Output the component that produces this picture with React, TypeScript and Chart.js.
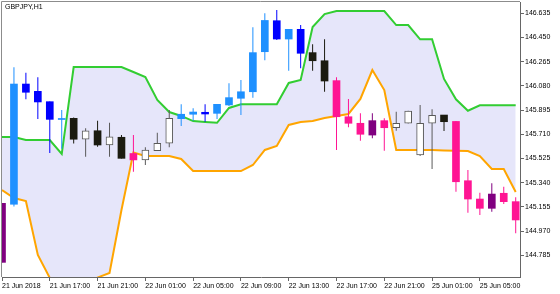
import React, { useEffect, useRef } from "react";
import { Chart, registerables } from "chart.js";

Chart.register(...registerables);

const X_LABELS = [
  "21 Jun 2018", "21 Jun 17:00", "21 Jun 21:00", "22 Jun 01:00", "22 Jun 05:00", "22 Jun 09:00",
  "22 Jun 13:00", "22 Jun 17:00", "22 Jun 21:00", "25 Jun 01:00", "25 Jun 05:00",
];
const X_TICK_INDEX = [0, 4, 8, 12, 16, 20, 24, 28, 32, 36, 40];
const Y_TICKS = [144.785, 144.970, 145.155, 145.340, 145.525, 145.710, 145.895, 146.080, 146.265, 146.450, 146.635];

const OPEN = [
  144.731, 145.175, 146.094, 146.038, 145.959, 145.823, 145.832, 145.672, 145.737, 145.628,
  145.687, 145.563, 145.514, 145.584, 145.641, 145.829, 145.863, 145.878, 145.870, 145.934,
  145.985, 146.035, 146.341, 146.578, 146.438, 146.512, 146.334, 146.272, 146.120, 145.844,
  145.794, 145.704, 145.814, 145.760, 145.794, 145.552, 145.794, 145.857, 145.808, 145.355,
  145.215, 145.144, 145.259, 145.195,
];
const HIGH = [
  145.185, 146.222, 146.181, 146.145, 145.960, 145.896, 145.838, 145.756, 145.814, 145.798,
  145.704, 145.704, 145.611, 145.722, 145.896, 145.939, 145.909, 145.939, 145.941, 146.100,
  146.125, 146.528, 146.635, 146.660, 146.514, 146.545, 146.398, 146.436, 146.145, 145.980,
  145.870, 145.870, 145.832, 145.882, 145.889, 145.934, 145.901, 145.858, 145.811, 145.437,
  145.263, 145.335, 145.309, 145.228,
];
const LOW = [
  144.730, 145.157, 145.977, 145.827, 145.567, 145.600, 145.639, 145.539, 145.615, 145.539,
  145.525, 145.424, 145.475, 145.582, 145.611, 145.773, 145.814, 145.806, 145.827, 145.926,
  145.857, 145.990, 146.275, 146.431, 146.196, 146.214, 146.196, 146.035, 145.590, 145.763,
  145.661, 145.679, 145.584, 145.737, 145.793, 145.544, 145.445, 145.735, 145.271, 145.110,
  145.093, 145.118, 145.177, 144.953,
];
const CLOSE = [
  145.182, 146.094, 146.031, 145.957, 145.824, 145.827, 145.672, 145.737, 145.628, 145.691,
  145.526, 145.514, 145.590, 145.641, 145.832, 145.863, 145.880, 145.865, 145.939, 145.990,
  146.035, 146.334, 146.580, 146.438, 146.512, 146.329, 146.272, 146.117, 145.844, 145.794,
  145.710, 145.814, 145.760, 145.794, 145.888, 145.794, 145.855, 145.806, 145.347, 145.215,
  145.144, 145.253, 145.195, 145.055,
];
// trend state of each bar: above channel ("up"), inside ("in"), below ("dn")
const TREND = [
  "dn", "up", "up", "up", "up", "up", "in", "in", "in", "in",
  "in", "dn", "in", "in", "in", "up", "up", "up", "up", "up",
  "up", "up", "up", "up", "up", "up", "in", "in", "dn", "dn",
  "dn", "dn", "dn", "in", "in", "in", "in", "in", "dn", "dn",
  "dn", "dn", "dn", "dn",
];
const UPPER = [
  145.689, 145.689, 145.666, 145.666, 145.666, 145.559, 146.224, 146.224, 146.224, 146.224,
  146.224, 146.186, 146.148, 145.972, 145.880, 145.850, 145.811, 145.804, 145.798, 145.911,
  145.939, 145.939, 145.939, 145.939, 146.102, 146.125, 146.530, 146.629, 146.652, 146.652,
  146.652, 146.652, 146.652, 146.545, 146.545, 146.436, 146.436, 146.133, 145.977, 145.890,
  145.931, 145.931, 145.931, 145.931,
];
const LOWER = [
  145.284, 145.223, 145.200, 144.787, 144.612, 144.540, 144.500, 144.520, 144.615, 144.650,
  145.131, 145.571, 145.544, 145.544, 145.544, 145.521, 145.429, 145.429, 145.429, 145.429,
  145.429, 145.475, 145.590, 145.620, 145.781, 145.804, 145.811, 145.834, 145.850, 145.865,
  145.980, 146.201, 146.048, 145.590, 145.590, 145.590, 145.590, 145.586, 145.584, 145.582,
  145.544, 145.445, 145.445, 145.269,
];

const FONT = { family: "'Liberation Sans', Arial, sans-serif", size: 7 };

export default function App() {
  const ref = useRef<HTMLCanvasElement>(null);

  useEffect(() => {
    if (!ref.current) return;
    const idx = OPEN.map((_, i) => i);
    const isBull = (i: number) => CLOSE[i] >= OPEN[i];
    const hollow = (i: number) => TREND[i] === "in" && isBull(i);
    const fillOf = (i: number) => {
      const b = isBull(i);
      if (TREND[i] === "up") return b ? "#1E90FF" : "#0000FF";
      if (TREND[i] === "dn") return b ? "#800080" : "#FF1493";
      return b ? "#FFFFFF" : "#1B1B10";
    };
    const edgeOf = (i: number) => (hollow(i) ? "#5A5A5A" : fillOf(i));

    const framePlugin = {
      id: "frame",
      afterDraw(chart: any) {
        const { ctx, chartArea } = chart;
        ctx.save();
        ctx.strokeStyle = "#8C8C8C";
        ctx.lineWidth = 1;
        ctx.beginPath();
        ctx.moveTo(chartArea.left - 0.5, chartArea.bottom);
        ctx.lineTo(chartArea.left - 0.5, chartArea.top - 0.5);
        ctx.lineTo(chartArea.right, chartArea.top - 0.5);
        ctx.stroke();
        ctx.restore();
      },
    };

    const chart = new Chart(ref.current, {
      type: "bar",
      data: {
        datasets: [
          {
            type: "bar",
            label: "body",
            data: idx.map((i) => ({ x: i, y: [OPEN[i], CLOSE[i]] })) as any,
            backgroundColor: idx.map(fillOf),
            borderColor: idx.map(edgeOf),
            borderWidth: idx.map((i) => (hollow(i) ? 1 : 0)),
            borderSkipped: false,
            barThickness: 7,
            minBarLength: 1,
            grouped: false,
            clip: 0,
            order: 1,
          } as any,
          {
            type: "bar",
            label: "wick",
            data: idx.map((i) => ({ x: i, y: [LOW[i], HIGH[i]] })) as any,
            backgroundColor: idx.map(edgeOf),
            borderWidth: 0,
            barThickness: 1,
            inflateAmount: 0,
            grouped: false,
            clip: 0,
            order: 2,
          } as any,
          {
            type: "line",
            label: "upper",
            data: idx.map((i) => ({ x: i, y: UPPER[i] })),
            borderColor: "#32CD32",
            borderWidth: 2,
            pointRadius: 0,
            tension: 0,
            fill: "+1",
            backgroundColor: "#E6E6FA",
            clip: 0,
            order: 3,
          } as any,
          {
            type: "line",
            label: "lower",
            data: idx.map((i) => ({ x: i, y: LOWER[i] })),
            borderColor: "#FFA500",
            borderWidth: 2,
            pointRadius: 0,
            tension: 0,
            fill: false,
            clip: 0,
            order: 4,
          } as any,
        ],
      },
      options: {
        responsive: false,
        animation: false,
        devicePixelRatio: 1,
        layout: { padding: { left: 2, top: 2, right: 0, bottom: 0 } },
        plugins: {
          legend: { display: false },
          tooltip: { enabled: false },
          filler: { drawTime: "beforeDatasetsDraw", propagate: false },
        } as any,
        scales: {
          x: {
            type: "linear",
            min: 0,
            max: 43.36,
            offset: false,
            position: "bottom",
            grid: { display: true, drawOnChartArea: false, drawTicks: true, tickLength: 4, color: "#666666", offset: false },
            border: { display: true, color: "#666666", width: 1 },
            ticks: {
              autoSkip: false,
              maxRotation: 0,
              minRotation: 0,
              align: "start",
              padding: 1,
              color: "#000000",
              font: FONT,
              callback: (_v: any, i: number) => X_LABELS[i] ?? "",
            },
            afterBuildTicks: (s: any) => {
              s.ticks = X_TICK_INDEX.map((v) => ({ value: v }));
            },
            afterFit: (s: any) => {
              s.height = 17;
              s.paddingLeft = 0;
              s.paddingRight = 0;
            },
          } as any,
          y: {
            type: "linear",
            position: "right",
            min: 144.619,
            max: 146.721,
            grid: { display: true, drawOnChartArea: false, drawTicks: true, tickLength: 4, color: "#666666" },
            border: { display: true, color: "#666666", width: 1 },
            ticks: {
              padding: 1,
              color: "#000000",
              font: FONT,
              callback: (v: any) => Number(v).toFixed(3),
            },
            afterBuildTicks: (s: any) => {
              s.ticks = Y_TICKS.map((v) => ({ value: v }));
            },
            afterFit: (s: any) => {
              s.width = 40;
              s.paddingTop = 0;
              s.paddingBottom = 0;
            },
          } as any,
        },
      },
      plugins: [framePlugin],
    });
    return () => chart.destroy();
  }, []);

  return (
    <div style={{ position: "fixed", left: 0, top: 0, width: 560, height: 294, background: "#FFFFFF" }}>
      <canvas ref={ref} width={560} height={294} style={{ display: "block", width: 560, height: 294 }} />
      <div
        style={{
          position: "absolute",
          left: 5,
          top: 2,
          fontFamily: "'Liberation Sans', Arial, sans-serif",
          fontSize: 7,
          lineHeight: "9px",
          color: "#000000",
          whiteSpace: "nowrap",
        }}
      >
        GBPJPY,H1
      </div>
    </div>
  );
}
